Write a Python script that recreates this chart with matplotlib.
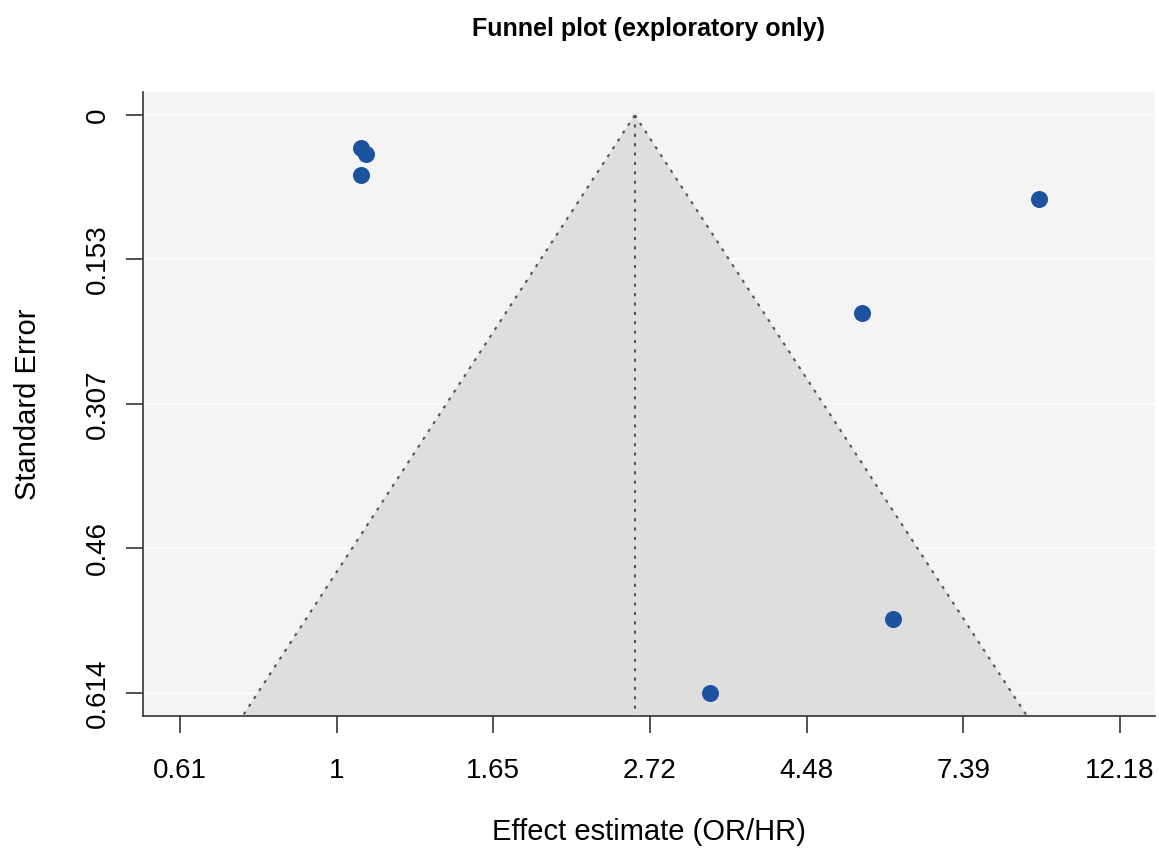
import matplotlib.pyplot as plt
import numpy as np

plt.rcParams['font.family'] = ['Liberation Sans', 'DejaVu Sans']

# study estimates (OR/HR) and standard errors
estimates = [1.08, 1.10, 1.08, 9.41, 5.35, 5.91, 3.29]
std_errors = [0.035, 0.041, 0.064, 0.089, 0.210, 0.536, 0.614]
pooled = 2.59

x_ticks = [0.61, 1, 1.65, 2.72, 4.48, 7.39, 12.18]
x_tick_pos = np.exp([-0.5, 0, 0.5, 1, 1.5, 2, 2.5])
y_ticks = [0, 0.153, 0.307, 0.46, 0.614]

W, H = 1159, 852
fig = plt.figure(figsize=(W / 100, H / 100), dpi=100)
ax = fig.add_axes([143 / W, (H - 716) / H, (1155 - 143) / W, (716 - 92) / H])

ymax = max(std_errors)
ylim = (-0.04 * ymax, 1.04 * ymax)
xlim = (np.exp(-0.618), np.exp(2.612))

ax.set_facecolor('#f4f4f4')
for t in y_ticks:
    ax.axhline(t, color='white', lw=1.2, zorder=1)

# funnel region (95% pseudo-CI)
se_line = np.array([0, ylim[1]])
lo = np.exp(np.log(pooled) - 1.96 * se_line)
hi = np.exp(np.log(pooled) + 1.96 * se_line)
ax.fill([lo[0], lo[1], hi[1]], [0, ylim[1], ylim[1]], color='#dedede', lw=0, zorder=2)
dots = (0, (1.5, 3))
ax.plot(lo, se_line, ls=dots, color='#555555', lw=1.5, zorder=3)
ax.plot(hi, se_line, ls=dots, color='#555555', lw=1.5, zorder=3)
ax.plot([pooled, pooled], se_line, ls=dots, color='#555555', lw=1.5, zorder=3)

ax.scatter(estimates, std_errors, s=150, color='#1c52a0', zorder=4, linewidths=0)

ax.set_xscale('log')
ax.set_xlim(*xlim)
ax.set_ylim(ylim[1], ylim[0])
ax.set_xticks(x_tick_pos)
ax.set_xticklabels([f'{v:g}' for v in x_ticks])
ax.minorticks_off()
ax.set_yticks(y_ticks)
ax.set_yticklabels([f'{v:g}' for v in y_ticks], rotation=90, va='center')

for s in ['top', 'right']:
    ax.spines[s].set_visible(False)
for s in ['left', 'bottom']:
    ax.spines[s].set_color('#333333')
    ax.spines[s].set_linewidth(1.2)
ax.tick_params(axis='both', length=12, width=1.2, color='#333333', labelsize=20)
ax.tick_params(axis='x', pad=18)
ax.tick_params(axis='y', pad=11)

ax.set_title('Funnel plot (exploratory only)', fontsize=18, fontweight='bold', pad=40)
ax.set_xlabel('Effect estimate (OR/HR)', fontsize=21, labelpad=25)
ax.set_ylabel('Standard Error', fontsize=21, labelpad=31)

fig.savefig('out.png', dpi=100)
